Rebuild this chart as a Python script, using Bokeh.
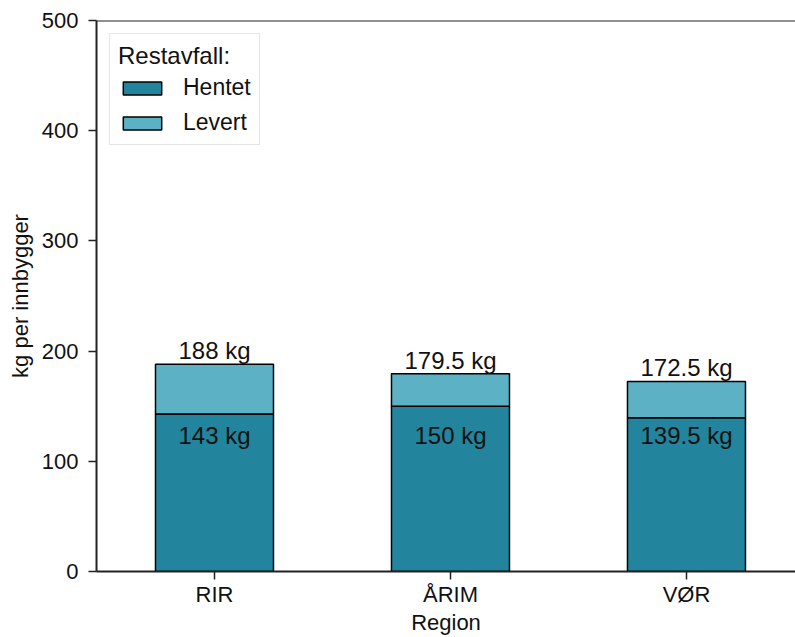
from bokeh.plotting import figure
from bokeh.models import Range1d, FixedTicker, Span, ColumnDataSource, Legend, LegendItem
from bokeh.core.properties import value
from bokeh.embed import file_html
from bokeh.resources import INLINE

# ---- data ----
regions = ["RIR", "ÅRIM", "VØR"]
hentet = [143, 150, 139.5]
levert = [45, 29.5, 33]
totals = [188, 179.5, 172.5]
series_names = ["Hentet", "Levert"]
series_colors = ["#22849d", "#5cb1c5"]
y_ticks = [0, 100, 200, 300, 400, 500]
legend_title = "Restavfall:"
x_label = "Region"
y_label = "kg per innbygger"

# ---- style constants ----
FONT = "Liberation Sans"
HENTET_LABEL_Y = 123

x = [i + 0.5 for i in range(len(regions))]
src = ColumnDataSource(dict(
    x=x,
    Hentet=hentet,
    Levert=levert,
    total=totals,
    hlab=[f"{v:g} kg" for v in hentet],
    tlab=[f"{v:g} kg" for v in totals],
    hy=[HENTET_LABEL_Y] * len(regions),
))

p = figure(width=795, height=637,
           x_range=Range1d(0, 2.962), y_range=Range1d(0, 500),
           output_backend="svg", toolbar_location=None,
           min_border_top=20, min_border_left=96,
           min_border_right=0, min_border_bottom=0)
p.outline_line_color = None
p.xgrid.visible = False
p.ygrid.visible = False
p.background_fill_color = "white"
p.border_fill_color = "white"

renderers = p.vbar_stack(series_names, x="x", width=0.5, source=src,
                         fill_color=series_colors, line_color="black",
                         line_width=1.5)

# top frame line
p.add_layout(Span(location=500, dimension="width", line_color="#222222", line_width=2))

# value labels
p.text(x="x", y="total", text="tlab", source=src, text_align="center",
       text_baseline="bottom", text_font=value(FONT), text_font_size="24px",
       text_color="#111111")
p.text(x="x", y="hy", text="hlab", source=src, text_align="center",
       text_baseline="middle", text_font=value(FONT), text_font_size="24px",
       text_color="#111111")

# axes
p.xaxis.ticker = FixedTicker(ticks=x)
p.xaxis.major_label_overrides = {xi: r for xi, r in zip(x, regions)}
p.yaxis.ticker = FixedTicker(ticks=y_ticks)
p.xaxis.axis_label = x_label
p.yaxis.axis_label = y_label
for ax in (p.xaxis, p.yaxis):
    ax.axis_line_color = "#222222"
    ax.axis_line_width = 2
    ax.major_tick_line_color = "#222222"
    ax.major_tick_line_width = 1.5
    ax.major_tick_out = 8
    ax.major_tick_in = 0
    ax.minor_tick_line_color = None
    ax.major_label_text_font = FONT
    ax.major_label_text_font_size = "22px"
    ax.major_label_text_color = "#111111"
    ax.axis_label_text_font = FONT
    ax.axis_label_text_font_size = "22px"
    ax.axis_label_text_font_style = "normal"
    ax.axis_label_text_color = "#111111"
p.xaxis.major_label_standoff = 2
p.xaxis.axis_label_standoff = 0
p.yaxis.major_label_standoff = 10
p.yaxis.axis_label_standoff = 6

legend = Legend(
    items=[LegendItem(label=n, renderers=[r]) for n, r in zip(series_names, renderers)],
    title=legend_title,
    location="top_left",
)
legend.margin = 13
legend.padding = 8
legend.title_text_font = FONT
legend.title_text_font_size = "24px"
legend.title_text_font_style = "normal"
legend.title_text_color = "#111111"
legend.title_standoff = 4
legend.label_text_font = FONT
legend.label_text_font_size = "23px"
legend.label_text_color = "#111111"
legend.glyph_width = 48
legend.glyph_height = 16
legend.label_standoff = 17
legend.label_height = 24
legend.spacing = 8
legend.border_line_color = "#cccccc"
legend.border_line_width = 1
legend.background_fill_color = "white"
legend.background_fill_alpha = 1
p.add_layout(legend)

open("out.html", "w").write(file_html(p, INLINE))
